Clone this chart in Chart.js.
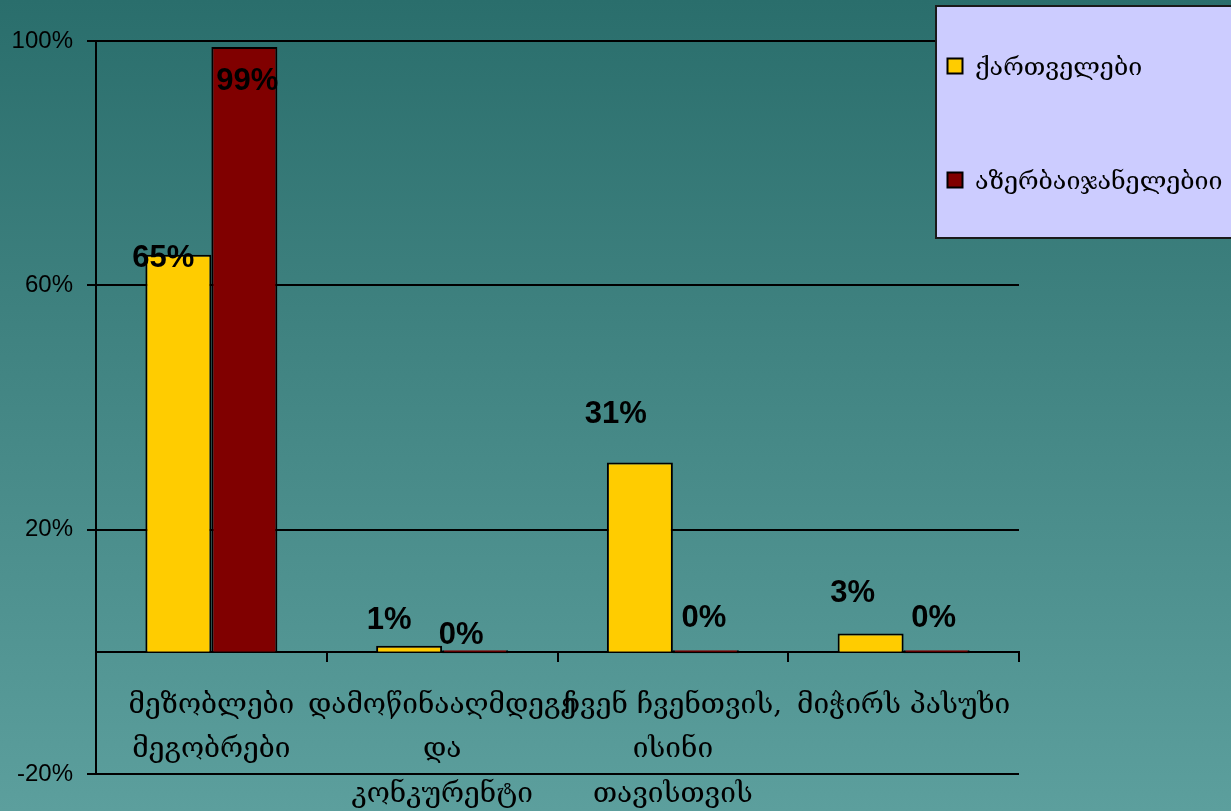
<!DOCTYPE html>
<html>
<head>
<meta charset="utf-8">
<script src="https://cdn.jsdelivr.net/npm/chart.js@4.4.1/dist/chart.umd.min.js"></script>
<style>
  html, body { margin: 0; padding: 0; }
  body {
    width: 1231px;
    height: 811px;
    overflow: hidden;
    background: linear-gradient(to bottom, #2a6e6c 0%, #3f8280 40%, #5c9f9d 100%);
  }
  #wrap { position: relative; width: 1231px; height: 811px; }
</style>
</head>
<body>
<div id="wrap"><canvas id="chart"></canvas></div>
<script>
const categories = [
  ['მეზობლები', 'მეგობრები'],
  ['დამოწინააღმდეგე', 'და', 'კონკურენტი'],
  ['ჩვენ ჩვენთვის,', 'ისინი', 'თავისთვის'],
  ['მიჭირს პასუხი'],
];
const seriesNames = ['ქართველები', 'აზერბაიჯანელებიი'];
const georgians = [65, 1, 31, 3];
const azerbaijanis = [99, 0, 0, 0];
const yTicks = [-20, 20, 60, 100];

const serif = '"DejaVu Serif", "DejaVu Sans", serif';
const sans = '"Liberation Sans", Arial, sans-serif';

// hand-placed value labels, [dx, dy] from the bar top, per dataset
const labelShift = [
  [[-15, 4], [-20, -25], [-24, -48], [-18, -40]],
  [[3, 34], [-14, -18], [-2, -35], [-3, -35]],
];

const valueLabels = {
  id: 'valueLabels',
  afterDatasetsDraw(chart) {
    const ctx = chart.ctx;
    ctx.save();
    ctx.font = 'bold 31px ' + sans;
    ctx.fillStyle = '#000';
    ctx.textAlign = 'center';
    ctx.textBaseline = 'middle';
    chart.data.datasets.forEach((ds, i) => {
      chart.getDatasetMeta(i).data.forEach((bar, j) => {
        const s = labelShift[i][j];
        ctx.fillText(ds.data[j] + '%', bar.x + s[0], bar.y + s[1]);
      });
    });
    ctx.restore();
  },
};

const boxLegend = {
  id: 'boxLegend',
  afterDraw(chart) {
    const ctx = chart.ctx;
    ctx.save();
    ctx.fillStyle = '#ccccff';
    ctx.strokeStyle = '#1a1a1a';
    ctx.lineWidth = 2;
    ctx.fillRect(936, 6, 300, 232);
    ctx.strokeRect(936, 6, 300, 232);
    ctx.font = '25px ' + serif;
    ctx.textBaseline = 'middle';
    chart.data.datasets.forEach((ds, i) => {
      const y = 66 + i * 114;
      ctx.fillStyle = ds.backgroundColor;
      ctx.fillRect(947.5, y - 7.5, 15, 15);
      ctx.lineWidth = 2;
      ctx.strokeStyle = '#000';
      ctx.strokeRect(947.5, y - 7.5, 15, 15);
      ctx.fillStyle = '#000';
      ctx.fillText(ds.label, 975, y + 2);
    });
    ctx.restore();
  },
};

const data = {
  labels: categories,
  datasets: [
    {
      label: seriesNames[0],
      data: georgians,
      backgroundColor: '#ffcc00',
      borderColor: '#000',
      borderWidth: 2,
      minBarLength: 3,
      barPercentage: 1,
      categoryPercentage: 0.572,
    },
    {
      label: seriesNames[1],
      data: azerbaijanis,
      backgroundColor: '#800000',
      borderColor: '#000',
      borderWidth: 2,
      minBarLength: 3,
      barPercentage: 1,
      categoryPercentage: 0.572,
    },
  ],
};

const config = {
  type: 'bar',
  data: data,
  plugins: [valueLabels, boxLegend],
  options: {
    responsive: false,
    animation: false,
    layout: { padding: { left: 0, top: 41, right: 212, bottom: 37 } },
    plugins: {
      legend: { display: false },
      tooltip: { enabled: false },
    },
    scales: {
      x: {
        position: { y: 0 },
        grid: {
          offset: true,
          drawOnChartArea: false,
          color: '#000',
          lineWidth: 2,
          tickLength: 9,
        },
        border: { color: '#000', width: 2 },
        ticks: {
          color: '#000',
          font: { family: serif, size: 28, lineHeight: 1.6 },
          padding: 22,
          maxRotation: 0,
          minRotation: 0,
          autoSkip: false,
        },
      },
      y: {
        min: -20,
        max: 100,
        afterBuildTicks: (scale) => { scale.ticks = yTicks.map(v => ({ value: v })); },
        afterFit: (scale) => { scale.width = 96; },
        grid: { color: '#000', lineWidth: 2, tickLength: 9 },
        border: { color: '#000', width: 2 },
        ticks: {
          color: '#000',
          font: { family: sans, size: 24 },
          padding: 14,
          callback: (v) => v + '%',
        },
      },
    },
  },
};

const canvas = document.getElementById('chart');
canvas.width = 1231;
canvas.height = 811;
new Chart(canvas, config);
</script>
</body>
</html>
